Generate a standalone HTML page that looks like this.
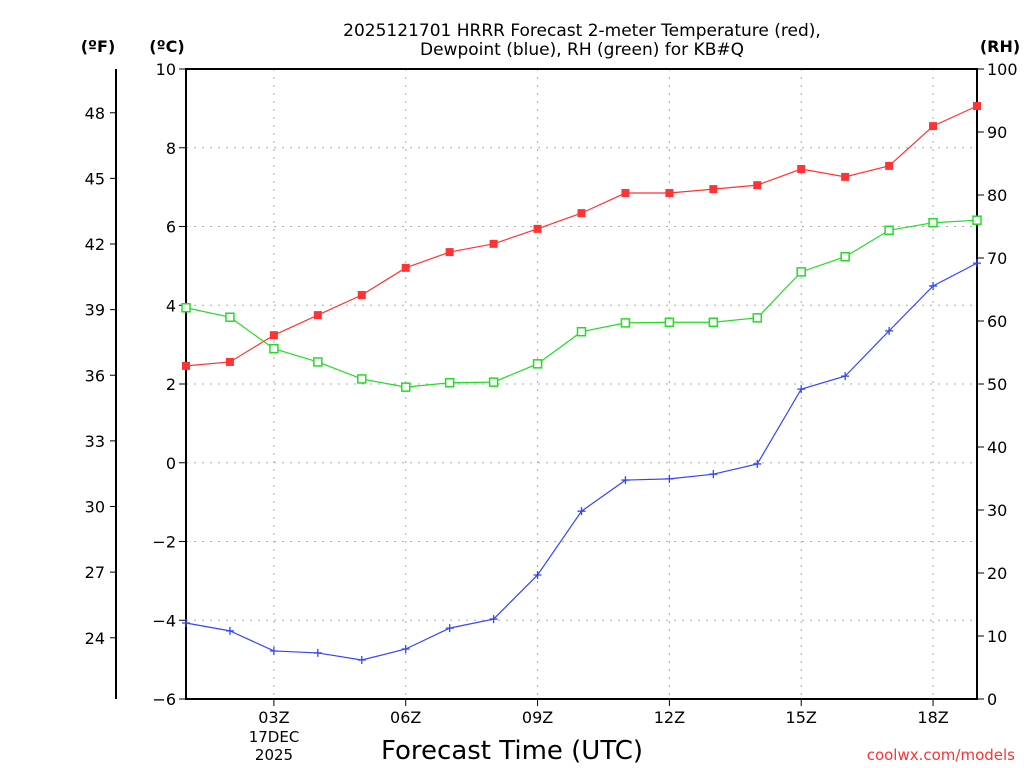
<!DOCTYPE html>
<html><head><meta charset="utf-8">
<style>
html,body{margin:0;padding:0;background:#fff;}
svg{display:block;font-family:"DejaVu Sans","Liberation Sans",sans-serif;}
</style></head>
<body>
<svg id="chart" width="1024" height="768" viewBox="0 0 1024 768">
<rect width="1024" height="768" fill="#fff"/>
<g id="grid"></g>
<g id="axes"></g>
<g id="series"></g>
<text x="582" y="36" text-anchor="middle" font-size="17" fill="#000">2025121701 HRRR Forecast 2-meter Temperature (red),</text>
<text x="582" y="55" text-anchor="middle" font-size="17" fill="#000">Dewpoint (blue), RH (green) for KB#Q</text>
<text x="98" y="52" text-anchor="middle" font-size="16" font-weight="bold">(ºF)</text>
<text x="167" y="52" text-anchor="middle" font-size="16" font-weight="bold">(ºC)</text>
<text x="1000" y="52" text-anchor="middle" font-size="16" font-weight="bold">(RH)</text>
<text x="512" y="759" text-anchor="middle" font-size="26">Forecast Time (UTC)</text>
<text x="274" y="742" text-anchor="middle" font-size="15">17DEC</text>
<text x="274" y="760" text-anchor="middle" font-size="15">2025</text>
<text x="1015" y="760" text-anchor="end" font-size="15" fill="#ff3333">coolwx.com/models</text>
</svg>
<script>
const hours=[1,2,3,4,5,6,7,8,9,10,11,12,13,14,15,16,17,18,19];
const tempC=[2.46,2.56,3.24,3.75,4.26,4.95,5.35,5.56,5.94,6.34,6.85,6.85,6.95,7.05,7.46,7.26,7.54,8.55,9.06];
const dewC=[-4.07,-4.27,-4.78,-4.83,-5.01,-4.73,-4.20,-3.97,-2.85,-1.23,-0.44,-0.41,-0.29,-0.03,1.87,2.20,3.35,4.49,5.07];
const rh=[62.1,60.6,55.6,53.5,50.8,49.5,50.2,50.3,53.2,58.3,59.7,59.8,59.8,60.5,67.8,70.2,74.4,75.6,76.0];
const cTicks=[-6,-4,-2,0,2,4,6,8,10];
const fTicks=[24,27,30,33,36,39,42,45,48];
const rhTicks=[0,10,20,30,40,50,60,70,80,90,100];
const xTickHours=[3,6,9,12,15,18];
const xTickLabels=["03Z","06Z","09Z","12Z","15Z","18Z"];

const L=186,R=977,T=69,B=699;
const x=h=>L+(h-1)*(R-L)/18;
const yC=c=>T+(10-c)*(B-T)/16;
const yF=f=>yC((f-32)*5/9);
const yRH=v=>B-v*(B-T)/100;
const NS="http://www.w3.org/2000/svg";
function mk(tag,attrs,parent){const e=document.createElementNS(NS,tag);for(const k in attrs)e.setAttribute(k,attrs[k]);parent.appendChild(e);return e;}
const grid=document.getElementById('grid'),axes=document.getElementById('axes'),series=document.getElementById('series');

cTicks.forEach(c=>{
  if(c>-6&&c<10){const g=mk('line',{x1:L,x2:R,y1:yC(c),y2:yC(c),stroke:'#aaa','stroke-dasharray':'2,6'},grid);
  
  }
  const t=mk('line',{x1:L-7,x2:L,y1:yC(c),y2:yC(c),stroke:'#000'},axes);
  
  
  const l=mk('text',{x:L-10,y:yC(c)+6,'text-anchor':'end','font-size':16},axes);l.textContent=c<0?'\u2212'+(-c):c;
  
  
});
xTickHours.forEach((h,i)=>{
  const g=mk('line',{x1:x(h),x2:x(h),y1:T,y2:B,stroke:'#aaa','stroke-dasharray':'2,6'},grid);
  
  
  const t=mk('line',{x1:x(h),x2:x(h),y1:B,y2:B+7,stroke:'#000'},axes);
  
  
  const l=mk('text',{x:x(h),y:B+24,'text-anchor':'middle','font-size':16},axes);l.textContent=xTickLabels[i];
  
  
});
fTicks.forEach(f=>{
  const t=mk('line',{x1:110,x2:116,y1:yF(f),y2:yF(f),stroke:'#000'},axes);
  
  
  const l=mk('text',{x:105,y:yF(f)+6,'text-anchor':'end','font-size':16},axes);l.textContent=f;
  
  
});
rhTicks.forEach(v=>{
  const t=mk('line',{x1:R,x2:R+7,y1:yRH(v),y2:yRH(v),stroke:'#000'},axes);
  
  
  const l=mk('text',{x:R+10,y:yRH(v)+6,'text-anchor':'start','font-size':16},axes);l.textContent=v;
  
  
});
const fl=mk('line',{x1:116,x2:116,y1:T,y2:B,stroke:'#000','stroke-width':2},axes);


const frame=mk('rect',{x:L,y:T,width:R-L,height:B-T,fill:'none',stroke:'#000','stroke-width':2},axes);



function line(vals,yf,color,name){
  const p=mk('polyline',{points:vals.map((v,i)=>x(hours[i])+','+yf(v)).join(' '),fill:'none',stroke:color,'stroke-width':1.2},series);
  
  
}
line(tempC,yC,'#ff3333','temperature-line');
line(dewC,yC,'#3344ff','dewpoint-line');
line(rh,yRH,'#22dd22','rh-line');
tempC.forEach((v,i)=>{const m=mk('rect',{x:x(hours[i])-4,y:yC(v)-4,width:8,height:8,fill:'#ff3333'},series);
  
  });
rh.forEach((v,i)=>{const m=mk('rect',{x:x(hours[i])-4,y:yRH(v)-4,width:8,height:8,fill:'#fff',stroke:'#22dd22','stroke-width':1.5},series);
  
  });
dewC.forEach((v,i)=>{const cx=x(hours[i]),cy=yC(v);
  const m=mk('path',{d:`M${cx-4},${cy}H${cx+4}M${cx},${cy-4}V${cy+4}`,stroke:'#3344ff','stroke-width':1.3},series);
  
  });
</script>
</body></html>
